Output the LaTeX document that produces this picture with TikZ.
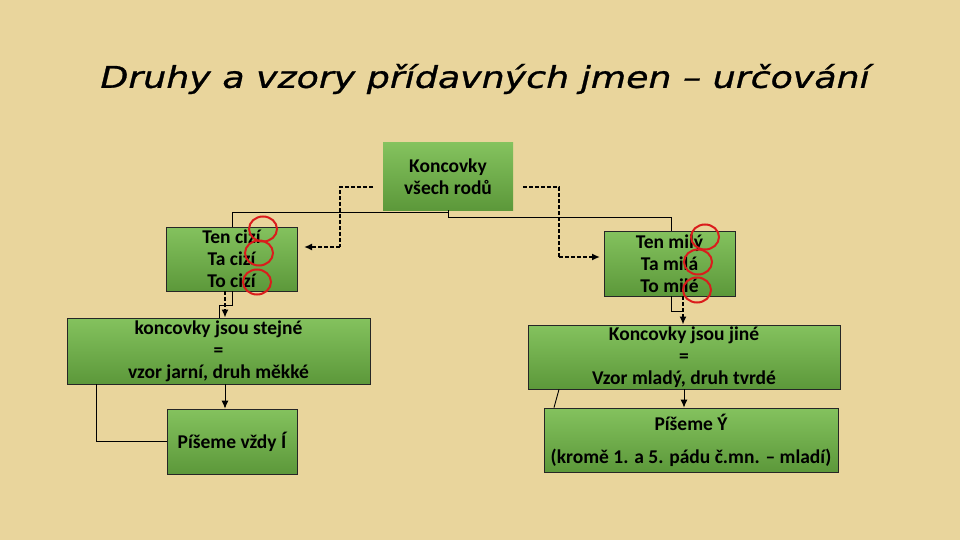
\documentclass[tikz,border=0pt]{standalone}
\usepackage{fontspec}
\setmainfont{Carlito}
\newfontfamily\titlefont[FakeBold=0.8]{DejaVu Sans}
\usetikzlibrary{arrows.meta}
\definecolor{bgc}{RGB}{233,213,156}
\definecolor{gtop}{RGB}{132,194,94}
\definecolor{gbot}{RGB}{92,152,58}
\definecolor{ringc}{RGB}{218,28,28}
\tikzset{
  gbox/.style={draw=black!85, line width=0.8pt, top color=gtop, bottom color=gbot,
    align=center, inner sep=0pt, font=\bfseries\fontsize{19.5}{22}\selectfont},
  tree/.style={draw=black, line width=0.9pt},
  dashlink/.style={draw=black, line width=2.2pt, dash pattern=on 4pt off 2pt},
  tip/.style={-{Latex[length=8pt,width=7pt]}},
  ring/.style={draw=ringc, line width=2pt},
}
\begin{document}
\begin{tikzpicture}[x=1pt,y=-1pt]
\useasboundingbox (0,0) rectangle (960,540);
\fill[bgc] (0,0) rectangle (960,540);

\node (title) at (485,79) {\titlefont\itshape\fontsize{30}{34}\selectfont\scalebox{1.21}[1]{Druhy a vzory přídavných jmen – určování}};

\node[gbox, draw=none, minimum width=130pt, minimum height=67pt] (top) at (448,176.5) {Koncovky\\všech rodů};
\node[gbox, minimum width=131pt, minimum height=64pt] (l1) at (231.5,259) {Ten cizí\\Ta cizí\\To cizí};
\node[gbox, minimum width=131pt, minimum height=65pt] (r1) at (669.5,263.5) {Ten milý\\Ta milá\\To milé};
\node[gbox, minimum width=303pt, minimum height=66pt] (l2) at (218.5,351) {koncovky jsou stejné\\=\\vzor jarní, druh měkké};
\node[gbox, minimum width=312pt, minimum height=64pt] (r2) at (684,357) {Koncovky jsou jiné\\=\\Vzor mladý, druh tvrdé};
\node[gbox, minimum width=130pt, minimum height=65pt] (l3) at (232,441.5) {Píšeme vždy Í};
\node[gbox, minimum width=294pt, minimum height=64pt, font=\bfseries\fontsize{19.5}{33}\selectfont] (r3) at (691,440) {Píšeme Ý\\(kromě 1. a 5. pádu č.mn. – mladí)};

% solid tree lines
\draw[tree] (top.south) -- ++(0,2) -| (l1.north -| 232,0);
\draw[tree] (top.south) ++(0,2) -- ++(0,5) -| (r1.north -| 671,0);
\draw[tree] (l1.south -| 232,0) |- (219,305) -- (l2.north -| 219,0);
\draw[tree] (r1.south -| 671,0) |- (683,311);
\draw[tree] (l2.south -| 96,0) |- (l3.west);
\draw[tree] (r2.south -| 559,0) -- (r3.north -| 554,0);
\draw[tree, tip] (l2.south -| 225,0) -- (l3.north -| 225,0);
\draw[tree, tip] (r2.south -| 684,0) -- (r3.north -| 684,0);

% dashed links
\coordinate (dl) at (373,187);
\coordinate (dr) at (523,187);
\coordinate (dlt) at (304,247);
\coordinate (drt) at (600,257);
\draw[dashlink] (dl) -- (340,187) -- (340,247);
\draw[dashlink, tip] (340,247) -- (dlt);
\draw[dashlink] (dr) -- (559,187) -- (559,257);
\draw[dashlink, tip] (559,257) -- (drt);
\draw[dashlink, tip] (l1.south -| 225,0) -- (l2.north -| 225,0);
\draw[dashlink, tip] (r1.south -| 683,0) -- (r2.north -| 683,0);

% red rings
\draw[ring] (263,229) ellipse (14pt and 12.5pt);
\draw[ring] (259,253) ellipse (14pt and 12.5pt);
\draw[ring] (257,282) ellipse (14pt and 12.5pt);
\draw[ring] (705,237) ellipse (14pt and 12.5pt);
\draw[ring] (698,262) ellipse (14pt and 12.5pt);
\draw[ring] (697,290) ellipse (14pt and 12.5pt);
\end{tikzpicture}
\end{document}
